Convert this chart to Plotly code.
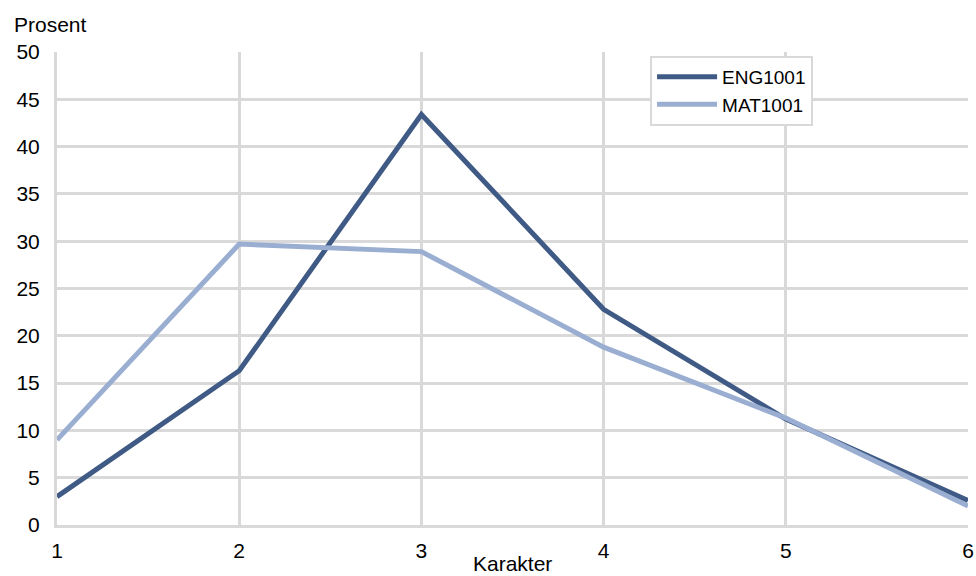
import plotly.graph_objects as go

karakter = [1, 2, 3, 4, 5, 6]
eng1001 = [3.0, 16.3, 43.4, 22.8, 11.2, 2.6]
mat1001 = [9.0, 29.7, 28.9, 18.8, 11.3, 2.0]
y_ticks = [0, 5, 10, 15, 20, 25, 30, 35, 40, 45, 50]

font = dict(family="Liberation Sans, Arial, sans-serif", size=21, color="#000000")
grid = "#d9d9d9"

fig = go.Figure()
fig.add_trace(go.Scatter(x=karakter, y=eng1001, mode="lines", name="ENG1001",
                         line=dict(color="#3f5a85", width=5)))
fig.add_trace(go.Scatter(x=karakter, y=mat1001, mode="lines", name="MAT1001",
                         line=dict(color="#9aaed2", width=5)))

fig.update_layout(
    width=976, height=576,
    margin=dict(l=57, r=8, t=52, b=51, autoexpand=False),
    paper_bgcolor="white", plot_bgcolor="white",
    font=font,
    showlegend=True,
    legend=dict(x=0.651, y=0.992, xanchor="left", yanchor="top",
                bordercolor=grid, borderwidth=2, bgcolor="white",
                font=dict(family=font["family"], size=19, color="#000"),
                itemwidth=60, tracegroupgap=0),
    xaxis=dict(range=[1, 6], tickvals=karakter, showgrid=True, gridcolor=grid, gridwidth=3,
               zeroline=False, showline=True, linecolor=grid, linewidth=3,
               ticks="", ticklabelstandoff=5, automargin=False, fixedrange=True),
    yaxis=dict(range=[0, 50], tickvals=y_ticks, showgrid=True, gridcolor=grid, gridwidth=3,
               zeroline=False, showline=True, linecolor=grid, linewidth=3,
               ticks="", ticklabelstandoff=10, automargin=False, fixedrange=True),
    annotations=[
        dict(text="Prosent", xref="paper", yref="paper", x=-0.0494, y=1.059,
             xanchor="left", yanchor="middle", showarrow=False, font=font),
        dict(text="Karakter", xref="paper", yref="paper", x=0.4995, y=-0.081,
             xanchor="center", yanchor="middle", showarrow=False, font=font),
    ],
)

fig.write_html("out.html")
